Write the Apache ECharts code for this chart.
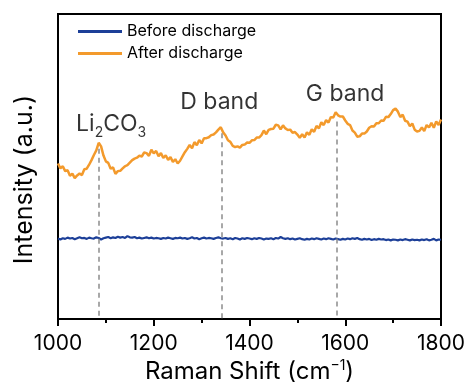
<!DOCTYPE html>
<html>
<head>
<meta charset="utf-8">
<script src="https://cdn.jsdelivr.net/npm/echarts@6/dist/echarts.min.js"></script>
<style>
  html, body { margin: 0; padding: 0; background: #fff; }
  #chart { width: 475px; height: 389px; }
</style>
</head>
<body>
<div id="chart"></div>
<script>
// Raman shift sampling (cm^-1)
const ramanShift = [
  1000, 1005, 1010, 1015, 1020, 1025, 1030, 1035, 1040, 1045,
  1050, 1055, 1060, 1065, 1070, 1075, 1080, 1085, 1090, 1095,
  1100, 1105, 1110, 1115, 1120, 1125, 1130, 1135, 1140, 1145,
  1150, 1155, 1160, 1165, 1170, 1175, 1180, 1185, 1190, 1195,
  1200, 1205, 1210, 1215, 1220, 1225, 1230, 1235, 1240, 1245,
  1250, 1255, 1260, 1265, 1270, 1275, 1280, 1285, 1290, 1295,
  1300, 1305, 1310, 1315, 1320, 1325, 1330, 1335, 1340, 1345,
  1350, 1355, 1360, 1365, 1370, 1375, 1380, 1385, 1390, 1395,
  1400, 1405, 1410, 1415, 1420, 1425, 1430, 1435, 1440, 1445,
  1450, 1455, 1460, 1465, 1470, 1475, 1480, 1485, 1490, 1495,
  1500, 1505, 1510, 1515, 1520, 1525, 1530, 1535, 1540, 1545,
  1550, 1555, 1560, 1565, 1570, 1575, 1580, 1585, 1590, 1595,
  1600, 1605, 1610, 1615, 1620, 1625, 1630, 1635, 1640, 1645,
  1650, 1655, 1660, 1665, 1670, 1675, 1680, 1685, 1690, 1695,
  1700, 1705, 1710, 1715, 1720, 1725, 1730, 1735, 1740, 1745,
  1750, 1755, 1760, 1765, 1770, 1775, 1780, 1785, 1790, 1795,
  1800
];

// Spectrum before discharge (a.u.)
const beforeDischarge = [
  26.4, 26.1, 26.5, 26.3, 26.7, 26.4, 26.6, 26.2, 26.5, 26.8,
  26.5, 26.6, 26.3, 26.7, 26.5, 26.4, 26.8, 26.6, 26.1, 26.5,
  26.7, 26.9, 26.5, 26.8, 26.6, 27.0, 26.7, 26.9, 26.6, 27.2,
  26.8, 26.7, 26.9, 26.5, 26.7, 26.4, 26.6, 26.8, 26.5, 26.7,
  26.4, 26.6, 26.5, 26.3, 26.6, 26.4, 26.7, 26.5, 26.3, 26.6,
  26.5, 26.7, 26.4, 26.6, 26.3, 26.5, 26.8, 26.4, 26.6, 26.2,
  26.5, 26.7, 26.4, 26.6, 26.5, 26.3, 26.6, 26.8, 26.5, 26.4,
  26.6, 26.3, 26.5, 26.2, 26.6, 26.4, 26.1, 26.5, 26.3, 26.6,
  26.4, 26.2, 26.5, 26.3, 26.6, 26.4, 26.1, 26.4, 26.3, 26.5,
  26.2, 26.6, 26.4, 26.9, 26.5, 26.3, 26.5, 26.2, 26.4, 26.1,
  26.3, 26.5, 26.2, 26.0, 26.3, 26.1, 26.4, 26.2, 26.5, 26.3,
  26.1, 26.4, 26.2, 26.5, 26.3, 26.1, 26.4, 26.2, 26.0, 26.3,
  26.1, 26.4, 26.2, 26.5, 26.3, 26.6, 26.2, 26.0, 26.3, 26.1,
  26.3, 25.9, 26.2, 26.0, 26.3, 26.1, 26.2, 25.9, 26.1, 25.8,
  26.1, 26.0, 25.8, 26.1, 25.9, 26.2, 26.0, 25.8, 26.1, 25.9,
  26.0, 25.8, 26.1, 25.9, 26.2, 25.8, 26.0, 26.3, 25.8, 26.1,
  26.0
];

// Spectrum after discharge (a.u.)
const afterDischarge = [
  51.0, 49.4, 50.1, 48.5, 48.8, 47.0, 47.7, 46.2, 47.1, 47.7,
  47.2, 49.1, 49.3, 50.6, 52.1, 53.8, 55.3, 57.8, 56.6, 53.6,
  51.7, 51.2, 49.3, 49.7, 47.6, 48.5, 48.6, 49.4, 50.1, 50.5,
  51.3, 52.1, 52.6, 52.9, 53.6, 53.3, 54.6, 54.4, 53.5, 55.5,
  54.3, 55.1, 53.4, 54.4, 52.8, 53.7, 52.2, 53.1, 51.5, 52.4,
  51.0, 51.9, 53.3, 54.7, 55.8, 57.1, 56.0, 58.0, 57.0, 58.7,
  57.6, 59.3, 59.3, 59.6, 60.3, 60.5, 61.2, 62.1, 62.9, 61.2,
  60.2, 58.6, 58.1, 56.8, 56.4, 56.6, 56.2, 57.1, 57.2, 57.9,
  57.8, 58.6, 58.7, 59.5, 59.5, 60.3, 61.8, 60.6, 62.0, 62.3,
  62.4, 63.7, 63.5, 62.2, 63.5, 62.5, 62.0, 62.1, 61.1, 61.3,
  60.5, 59.4, 60.6, 59.5, 61.2, 60.4, 62.2, 61.4, 63.3, 62.5,
  64.5, 63.6, 65.2, 64.4, 66.2, 66.1, 67.8, 66.8, 66.4, 66.4,
  65.1, 64.0, 63.6, 61.8, 61.1, 59.8, 59.9, 60.8, 60.8, 61.5,
  62.7, 63.2, 63.1, 64.2, 64.2, 65.1, 65.0, 66.3, 66.2, 67.2,
  68.5, 69.0, 68.0, 66.2, 67.0, 65.0, 64.7, 63.2, 64.1, 62.1,
  61.5, 61.7, 62.8, 61.6, 63.6, 62.8, 64.3, 62.7, 64.8, 63.6,
  65.4
];

// Assigned bands: position (cm^-1) and name
const bandShift = [1086, 1341, 1583];
const bandName = ['Li2CO3', 'D band', 'G band'];

// x-axis tick labels
const xTicks = [1000, 1200, 1400, 1600, 1800];

const seriesNames = ['Before discharge', 'After discharge'];
const colors = ['#1c3f98', '#f39a2c'];

const FONT = 'Inter, "Liberation Sans", Arial, sans-serif';

function pairs(ys) {
  return ramanShift.map((x, i) => [x, ys[i]]);
}

function peakAt(shift) {
  let best = 0;
  ramanShift.forEach((x, i) => {
    if (Math.abs(x - shift) < Math.abs(ramanShift[best] - shift)) best = i;
  });
  return afterDischarge[best];
}

// Label text for each band (Li2CO3 uses subscripts)
const bandLabel = {
  'Li2CO3': { text: '{n|Li}{s|2}{n|CO}{s|3}', offset: [12, 2] },
  'D band': { text: '{n|D band}', offset: [-2, -5] },
  'G band': { text: '{n|G band}', offset: [8, -1] }
};

const chart = echarts.init(document.getElementById('chart'));

chart.setOption({
  animation: false,
  backgroundColor: '#fff',
  grid: {
    left: 58, right: 34, top: 14, bottom: 69,
    show: true, borderColor: '#000', borderWidth: 2
  },
  legend: {
    orient: 'vertical',
    left: 73, top: 18,
    itemWidth: 44, itemHeight: 3,
    itemGap: 5,
    icon: 'rect',
    data: seriesNames,
    textStyle: { fontFamily: FONT, fontSize: 16, color: '#000', lineHeight: 17, padding: [0, 0, 0, 0] }
  },
  xAxis: {
    type: 'value',
    min: 1000, max: 1800, interval: 200,
    name: '{t|Raman Shift (cm}{sup|\u22121}{t|)}',
    nameLocation: 'middle',
    nameGap: 36,
    nameTextStyle: {
      rich: {
        t: { fontFamily: FONT, fontSize: 24, color: '#000', lineHeight: 26 },
        sup: { fontFamily: FONT, fontSize: 14, color: '#000', lineHeight: 26, verticalAlign: 'top', padding: [0, 0, 9, 0] }
      }
    },
    axisLine: { show: true, onZero: false, lineStyle: { color: '#000', width: 2 } },
    axisTick: { show: true, inside: false, length: 7, lineStyle: { color: '#000', width: 2 } },
    minorTick: { show: true, splitNumber: 2, length: 4, lineStyle: { color: '#000', width: 2 } },
    axisLabel: {
      margin: 14, fontFamily: FONT, fontSize: 21, color: '#000',
      customValues: xTicks,
      formatter: v => String(v)
    },
    splitLine: { show: false }
  },
  yAxis: {
    type: 'value',
    min: 0, max: 100,
    name: 'Intensity (a.u.)',
    nameLocation: 'middle',
    nameGap: 21,
    nameTextStyle: { fontFamily: FONT, fontSize: 25, color: '#000', padding: [0, 26, 0, 0] },
    axisLine: { show: true, lineStyle: { color: '#000', width: 2 } },
    axisTick: { show: false },
    axisLabel: { show: false },
    splitLine: { show: false }
  },
  series: [
    {
      name: seriesNames[0],
      type: 'line',
      data: pairs(beforeDischarge),
      showSymbol: false,
      symbol: 'none',
      color: colors[0],
      lineStyle: { color: colors[0], width: 2.2 },
      z: 3
    },
    {
      name: seriesNames[1],
      type: 'line',
      data: pairs(afterDischarge),
      showSymbol: false,
      symbol: 'none',
      color: colors[1],
      lineStyle: { color: colors[1], width: 2.5 },
      z: 4,
      markLine: {
        silent: true,
        symbol: ['none', 'none'],
        label: { show: false },
        lineStyle: { color: '#8c8c8c', width: 1.5, type: [5, 4] },
        data: bandShift.map(s => [
          { coord: [s, peakAt(s) - 2] },
          { coord: [s, 0] }
        ])
      }
    },
    {
      name: 'bands',
      type: 'scatter',
      symbolSize: 0,
      silent: true,
      data: bandShift.map((s, i) => ({
        value: [s, peakAt(s)],
        label: {
          show: true,
          position: 'top',
          distance: 6,
          offset: bandLabel[bandName[i]].offset,
          formatter: bandLabel[bandName[i]].text,
          rich: {
            n: { fontFamily: FONT, fontSize: 23, color: '#000', lineHeight: 26, verticalAlign: 'top' },
            s: { fontFamily: FONT, fontSize: 14, color: '#000', lineHeight: 26, verticalAlign: 'top', padding: [13, 0, 0, 0] }
          }
        }
      })),
      z: 5
    }
  ]
});
</script>
</body>
</html>
